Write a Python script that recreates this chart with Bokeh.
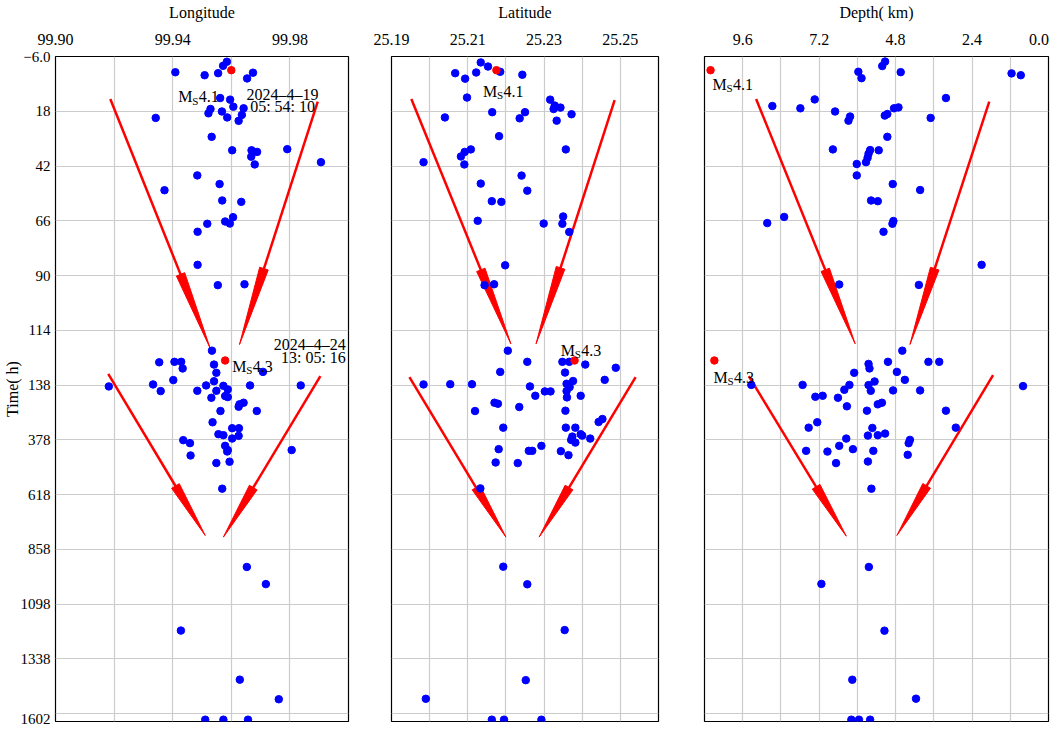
import math
import numpy as np
from bokeh.plotting import figure
from bokeh.models import Range1d, FixedTicker, Label, PrintfTickFormatter
from bokeh.layouts import row
from bokeh.embed import file_html
from bokeh.resources import INLINE

FONT = "Liberation Serif"

# ---------------- data (time in hours after the Ms4.1 event) ----------------
lon_time = [-3.7, -1.9, 0.9, 2.2, 1.3, 1.1, 3.6, 12.2, 12.9, 16.0, 16.7, 17.0, 18.9, 18.1, 20.7,
            22.2, 19.6, 20.9, 29.2, 35.1, 35.1, 35.8, 37.9, 41.3, 34.6, 40.3, 46.1, 49.9, 52.6,
            57.1, 57.7, 64.4, 66.3, 67.2, 67.3, 70.8, 85.3, 94.2, 93.8,
            122.9, 128.0, 127.8, 127.8, 130.7, 129.0, 132.6, 132.2, 135.8, 137.7, 143.7, 164.2,
            136.3, 139.3, 162.9, 162.9, 141.1, 156.8, 193.4, 186.0, 190.4, 139.3, 139.3, 215.2,
            222.2, 232.7, 251.4, 251.4, 300.8, 326.8, 326.8, 353.0, 357.3, 360.4, 372.1, 379.1,
            392.2, 404.0, 422.7, 428.8, 422.7, 446.3, 479.4, 473.7, 591.7,
            934.8, 1010, 1213.6, 1428.6, 1514.5, 1604, 1604, 1604]
lon = [99.9585, 99.9572, 99.9409, 99.9509, 99.9555, 99.9674, 99.9654, 99.9562, 99.9596, 99.9607,
       99.9642, 99.9529, 99.9522, 99.9568, 99.9586, 99.9625, 99.9636, 99.9342, 99.9533, 99.9603,
       99.9669, 99.9688, 99.9668, 99.9680, 99.9791, 99.9906, 99.9484, 99.9560, 99.9372, 99.9569,
       99.9634, 99.9606, 99.9579, 99.9595, 99.9518, 99.9485, 99.9485, 99.9554, 99.9645,
       99.9534, 99.9354, 99.9406, 99.9429, 99.9434, 99.9541, 99.9549, 99.9708, 99.9402, 99.9333,
       99.9182, 99.9359, 99.9541, 99.9514, 99.9484, 99.9549, 99.9573, 99.9588, 99.9532, 99.9579,
       99.9588, 99.9664, 99.9837, 99.9642, 99.9628, 99.9625, 99.9687, 99.9563, 99.9536, 99.9603,
       99.9626, 99.9556, 99.9573, 99.9625, 99.9603, 99.9436, 99.9459, 99.9579, 99.9588, 99.9586,
       99.9806, 99.9461, 99.9549, 99.9594, 99.9569,
       99.9653, 99.9718, 99.9428, 99.9629, 99.9762, 99.9511, 99.9573, 99.9657]

lat_time = [-3.4, -1.6, 0.7, 1.3, 3.7, 1.0, 2.0, 12.0, 12.9, 15.5, 17.0, 16.4, 19.3, 22.1, 18.4,
            18.4, 21.1, 20.7, 28.9, 34.7, 34.7, 35.8, 37.8, 41.3, 40.3, 46.2, 49.7, 52.8, 57.4,
            57.7, 66.0, 67.2, 64.1, 67.3, 70.9, 85.5, 94.2, 93.8,
            122.9, 127.8, 127.8, 127.8, 129.0, 130.4, 132.2, 132.5, 135.7, 137.7, 137.6, 137.6,
            143.7, 165.5, 165.5, 184.7, 137.4, 136.2, 146.7, 164.2, 191.7, 184.7, 215.2, 219.6,
            234.0, 251.5, 250.1, 299.5, 286.4, 324.3, 324.3, 324.3, 353.1, 359.2, 363.6, 378.0,
            389.8, 372.3, 418.6, 426.0, 426.0, 404.2, 427.3, 444.8, 477.0, 479.7, 590.5,
            933.5, 1010.7, 1211.5, 1430.9, 1512.5, 1604, 1604, 1604]
lat = [25.2134, 25.2153, 25.2185, 25.2067, 25.2093, 25.2122, 25.2243, 25.2098, 25.2316, 25.2328,
       25.2325, 25.2343, 25.2372, 25.2333, 25.2164, 25.2250, 25.2236, 25.2040, 25.2182, 25.2357,
       25.2108, 25.2092, 25.2082, 25.2091, 25.1984, 25.2241, 25.2134, 25.2256, 25.2163, 25.2188,
       25.2126, 25.2299, 25.2350, 25.2348, 25.2366, 25.2198, 25.2144, 25.2169,
       25.2205, 25.2256, 25.2348, 25.2366, 25.2408, 25.2488, 25.2185, 25.2355, 25.2459, 25.1984,
       25.2054, 25.2111, 25.2263, 25.2302, 25.2317, 25.2277, 25.2359, 25.2376, 25.2367, 25.2359,
       25.2360, 25.2396, 25.2170, 25.2179, 25.2235, 25.2119, 25.2356, 25.2443, 25.2453, 25.2193,
       25.2357, 25.2382, 25.2396, 25.2400, 25.2374, 25.2371, 25.2382, 25.2421, 25.2181, 25.2260,
       25.2269, 25.2293, 25.2344, 25.2364, 25.2173, 25.2231, 25.2133,
       25.2193, 25.2256, 25.2354, 25.2252, 25.1990, 25.2163, 25.2195, 25.2293]

dep_time = [-3.8, -1.8, 0.7, 3.5, 0.85, 1.4, 2.2, 12.2, 12.8, 15.7, 16.7, 18.1, 16.3, 16.7, 19.2,
            19.9, 20.3, 22.1, 20.9, 29.2, 34.7, 35.1, 35.0, 36.6, 38.4, 40.3, 41.1, 46.1, 49.9,
            52.5, 57.1, 57.4, 64.3, 67.0, 66.1, 67.3, 70.8, 85.3, 93.9, 94.1,
            122.9, 127.8, 128.7, 130.7, 127.8, 127.8, 132.6, 132.2, 135.7, 137.9, 137.9, 137.9,
            158.5, 138.0, 136.4, 162.9, 161.1, 161.1, 142.4, 189.0, 184.7, 193.4, 230.9, 222.2,
            215.2, 250.1, 250.1, 300.8, 324.3, 324.3, 325.6, 359.2, 357.5, 350.5, 372.3, 404.2,
            418.6, 378.0, 392.4, 426.0, 429.1, 426.0, 443.4, 479.7, 472.7, 591.8,
            934.8, 1009, 1214, 1429, 1512, 1604, 1604, 1604]
depth = [5.13, 5.22, 5.97, 5.87, 4.64, 1.16, 0.87, 3.22, 7.34, 8.67, 7.79, 6.70, 4.71, 4.85, 5.06,
         5.14, 6.23, 6.28, 3.70, 5.06, 6.77, 5.33, 5.60, 5.65, 5.68, 5.73, 6.02, 6.02, 4.89,
         4.03, 5.57, 5.36, 8.30, 8.83, 4.87, 4.90, 5.18, 2.10, 6.57, 4.07,
         4.59, 5.04, 5.65, 5.62, 3.77, 3.43, 6.10, 4.76, 4.51, 9.33, 7.72, 6.25,
         6.41, 5.65, 5.46, 5.58, 4.88, 4.03, 0.80, 7.32, 7.09, 6.61, 6.33, 5.36,
         5.23, 5.70, 3.22, 7.26, 7.53, 2.91, 5.53, 5.67, 5.36, 5.13, 6.35, 6.57,
         6.14, 4.35, 4.39, 7.61, 6.94, 5.50, 4.42, 6.67, 5.67, 5.56,
         5.64, 7.13, 5.15, 6.16, 4.16, 6.19, 5.95, 5.60]

# main shocks: Ms4.1 (2024-4-19 05:54:10) and Ms4.3 (2024-4-24 13:05:16)
main_time = [0.0, 127.2]
main_lon = [99.9600, 99.9579]
main_lat = [25.2175, 25.2380]
main_dep = [10.61, 10.49]
main_mag = ["4.1", "4.3"]

y_tick_hours = [-6, 18, 42, 66, 90, 114, 138, 378, 618, 858, 1098, 1338, 1602]
y_tick_text = ["\u22126.0", "18", "42", "66", "90", "114", "138", "378", "618", "858",
               "1098", "1338", "1602"]
y_grid_hours = [18, 42, 66, 90, 114, 138, 378, 618, 858, 1098, 1338, 1578]

depth_ticks = [9.6, 7.2, 4.8, 2.4, 0.0]

# arrows: (x_tail, t_tail, x_tip, t_tip)
ARROWS_LON = [(99.9187, 12.6, 99.9528, 121.9), (99.9895, 13.8, 99.9628, 120.2),
              (99.9180, 133.1, 99.9511, 797), (99.9904, 134.1, 99.9573, 804)]
ARROWS_LAT = [(25.1952, 12.6, 25.2213, 119.9), (25.2485, 13.1, 25.2279, 119.9),
              (25.1947, 134.5, 25.2200, 804), (25.2540, 134.5, 25.2287, 804)]
ARROWS_DEP = [(9.18, 12.6, 6.07, 119.9), (1.86, 13.8, 4.35, 120.2),
              (9.41, 134.1, 6.35, 800), (1.74, 133.6, 4.76, 797)]
HEAD_LEN = [80, 80, 58, 58]


def disp(t):
    """Broken time axis: linear up to 138 h, then compressed 10x."""
    t = np.asarray(t, dtype=float)
    return np.where(t <= 138, t, 138 + (t - 138) / 10.0)


H = 729
TOP, BOT = 54, 8
Y_TOP = -6.0
Y_BOT = float(disp(1612))
FRAME_H = H - TOP - BOT

y_ticks = [float(v) for v in disp(y_tick_hours)]
y_over = {k: s for k, s in zip(y_ticks, y_tick_text)}
y_grid = [float(v) for v in disp(y_grid_hours)]


def make_fig(width, mbl, mbr, xr, title, with_y):
    p = figure(width=width, height=H, x_range=Range1d(*xr), y_range=Range1d(Y_BOT, Y_TOP),
               output_backend="svg", toolbar_location=None, x_axis_location="above",
               y_axis_location="left" if with_y else None,
               min_border_left=mbl, min_border_right=mbr, min_border_top=TOP,
               min_border_bottom=BOT, background_fill_color="white",
               border_fill_color="white")
    p.outline_line_color = "black"
    p.outline_line_width = 1.2
    p.outline_line_alpha = 1
    for ax in p.axis:
        ax.axis_line_color = None
        ax.major_tick_line_color = None
        ax.minor_tick_line_color = None
        ax.major_tick_out = 0
        ax.major_tick_in = 0
        ax.minor_tick_out = 0
        ax.minor_tick_in = 0
        ax.major_label_text_font = FONT
        ax.major_label_text_font_size = "16px"
        ax.major_label_text_color = "black"
        ax.axis_label_text_font = FONT
        ax.axis_label_text_font_size = "16px"
        ax.axis_label_text_font_style = "normal"
        ax.axis_label_text_color = "black"
    p.xaxis.axis_label = title
    p.xaxis.major_label_standoff = 12
    p.xaxis.axis_label_standoff = 10
    if with_y:
        p.yaxis.ticker = FixedTicker(ticks=y_ticks)
        p.yaxis.major_label_overrides = y_over
        p.yaxis.major_label_text_font_size = "15px"
        p.yaxis.major_label_standoff = 5
        p.yaxis.axis_label = "Time( h)"
        p.yaxis.axis_label_standoff = -3
    p.ygrid.ticker = FixedTicker(ticks=y_grid)
    for g in list(p.xgrid) + list(p.ygrid):
        g.grid_line_color = "#cccccc"
        g.grid_line_width = 1.2
        g.grid_line_alpha = 1
    return p


def add_arrows(p, arrows, sx, sy):
    for (x0, t0, x1, t1), hl in zip(arrows, HEAD_LEN):
        d0, d1 = float(disp(t0)), float(disp(t1))
        X0, Y0, X1, Y1 = x0 * sx, d0 * sy, x1 * sx, d1 * sy
        L = math.hypot(X1 - X0, Y1 - Y0)
        ux, uy = (X1 - X0) / L, (Y1 - Y0) / L
        nx, ny = -uy, ux
        bx, by = X1 - hl * ux, Y1 - hl * uy
        w = 4.5
        xs = [(bx + w * nx) / sx, X1 / sx, (bx - w * nx) / sx]
        ys = [(by + w * ny) / sy, Y1 / sy, (by - w * ny) / sy]
        p.line([x0, (bx + 3 * ux) / sx], [d0, (by + 3 * uy) / sy], line_color="#ff0000",
               line_width=2.5)
        p.patch(xs, ys, fill_color="#ff0000", line_color="#ff0000", line_width=1)


def add_ms(p, x, t, mag):
    y = float(disp(t))
    p.add_layout(Label(x=x, y=y, text="M", text_font=FONT, text_font_size="16px",
                       text_baseline="alphabetic", text_align="left", text_color="black"))
    p.add_layout(Label(x=x, y=y, x_offset=14, y_offset=-4, text="S", text_font=FONT,
                       text_font_size="11px", text_baseline="alphabetic", text_align="left",
                       text_color="black"))
    p.add_layout(Label(x=x, y=y, x_offset=20.5, text=mag, text_font=FONT,
                       text_font_size="16px", text_baseline="alphabetic", text_align="left",
                       text_color="black"))


def add_text(p, x, t, text, align):
    p.add_layout(Label(x=x, y=float(disp(t)), text=text, text_font=FONT, text_font_size="16px",
                       text_baseline="alphabetic", text_align=align, text_color="black"))


sy = FRAME_H / (Y_BOT - Y_TOP)

# ---------------- Longitude panel ----------------
p1 = make_fig(370, 54, 22, (99.90, 100.00), "Longitude", True)
p1.xaxis.ticker = FixedTicker(ticks=[99.90, 99.94, 99.98])
p1.xaxis.formatter = PrintfTickFormatter(format="%.2f")
p1.xgrid.ticker = FixedTicker(ticks=[99.92, 99.94, 99.96, 99.98])
add_arrows(p1, ARROWS_LON, 294 / 0.10, sy)
p1.scatter(lon, disp(lon_time), size=7.5, color="#0000ff")
p1.scatter(main_lon, disp(main_time), size=7.5, color="#ff0000")
add_ms(p1, 99.9419, 11.7, main_mag[0])
add_ms(p1, 99.9603, 129.7, main_mag[1])
add_text(p1, 99.9775, 10.6, "2024\u20134\u201319", "center")
add_text(p1, 99.9775, 16.0, "05: 54: 10", "center")
add_text(p1, 99.9991, 120.1, "2024\u20134\u201324", "right")
add_text(p1, 99.9991, 125.8, "13: 05: 16", "right")

# ---------------- Latitude panel ----------------
p2 = make_fig(311, 21, 23, (25.19, 25.26), "Latitude", False)
p2.xaxis.ticker = FixedTicker(ticks=[25.19, 25.21, 25.23, 25.25])
p2.xaxis.formatter = PrintfTickFormatter(format="%.2f")
p2.xgrid.ticker = FixedTicker(ticks=[25.20, 25.21, 25.22, 25.23, 25.24, 25.25])
add_arrows(p2, ARROWS_LAT, 267 / 0.07, sy)
p2.scatter(lat, disp(lat_time), size=7.5, color="#0000ff")
p2.scatter(main_lat, disp(main_time), size=7.5, color="#ff0000")
add_ms(p2, 25.2140, 9.3, main_mag[0])
add_ms(p2, 25.2344, 122.7, main_mag[1])

# ---------------- Depth panel ----------------
p3 = make_fig(371, 23, 4, (10.8, 0.0), "Depth( km)", False)
# the last label (0.0) sits at the frame edge: nudge its anchor inward so it stays visible
dep_px = 344 / 10.8
last_anchor = depth_ticks[-1] + 9.5 / dep_px
p3_ticks = depth_ticks[:-1] + [last_anchor]
p3.xaxis.ticker = FixedTicker(ticks=p3_ticks)
p3.xaxis.formatter = PrintfTickFormatter(format="%.1f")
p3.xaxis.major_label_overrides = {last_anchor: "%.1f" % depth_ticks[-1]}
p3.xgrid.ticker = FixedTicker(ticks=[9.6, 8.4, 7.2, 6.0, 4.8, 3.6, 2.4, 1.2])
add_arrows(p3, ARROWS_DEP, -dep_px, sy)
p3.scatter(depth, disp(dep_time), size=7.5, color="#0000ff")
p3.scatter(main_dep, disp(main_time), size=7.5, color="#ff0000")
add_ms(p3, 10.55, 6.2, main_mag[0])
add_ms(p3, 10.52, 134.5, main_mag[1])

layout = row(p1, p2, p3)
open("out.html", "w").write(file_html(layout, INLINE))
